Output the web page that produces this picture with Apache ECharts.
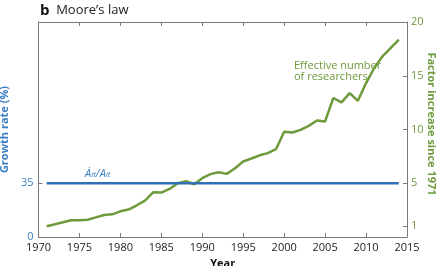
<!DOCTYPE html>
<html>
<head>
<meta charset="utf-8">
<script src="https://cdn.jsdelivr.net/npm/echarts@6/dist/echarts.min.js"></script>
<style>
  html, body { margin: 0; padding: 0; background: #fff; }
  #chart { width: 441px; height: 266px; }
</style>
</head>
<body>
<div id="chart"></div>
<script>
// effective number of researchers, factor increase since 1971
var years = [1971, 1972, 1973, 1974, 1975, 1976, 1977, 1978, 1979, 1980,
             1981, 1982, 1983, 1984, 1985, 1986, 1987, 1988, 1989, 1990,
             1991, 1992, 1993, 1994, 1995, 1996, 1997, 1998, 1999, 2000,
             2001, 2002, 2003, 2004, 2005, 2006, 2007, 2008, 2009, 2010,
             2011, 2012, 2013, 2014];
var researchers = [1.0, 1.18, 1.37, 1.55, 1.55, 1.61, 1.83, 2.05, 2.11, 2.39,
                   2.55, 2.95, 3.39, 4.16, 4.13, 4.47, 5.0, 5.19, 4.91, 5.47,
                   5.85, 6.03, 5.87, 6.4, 7.02, 7.3, 7.6, 7.8, 8.17, 9.79,
                   9.72, 9.97, 10.34, 10.84, 10.75, 12.93, 12.52, 13.39, 12.67, 14.32,
                   15.72, 16.8, 17.58, 18.36];
// growth rate (%)
var growthYears = [1971, 2014];
var growthRate = [35, 35];

var leftTicks = [0, 35];
var rightTicks = [1, 5, 10, 15, 20];

var blue = '#2f6fb3';
var blueText = '#3b7fc3';
var green = '#6e9a3c';
var axisGray = '#7a7a7a';
var font = 'Open Sans';

var chart = echarts.init(document.getElementById('chart'));

var greenData = years.map(function (y, i) { return [y, researchers[i]]; });
var blueData = growthYears.map(function (y, i) { return [y, growthRate[i]]; });

var option = {
    backgroundColor: '#fff',
    animation: false,
    textStyle: { fontFamily: font },
    grid: { left: 38.5, right: 34, top: 22, bottom: 29, containLabel: false, outerBoundsMode: 'none' },
    xAxis: [{
        type: 'value',
        min: 1970, max: 2015, interval: 5,
        name: 'Year',
        nameLocation: 'middle',
        nameGap: 16,
        nameTextStyle: { fontFamily: font, fontSize: 11, fontWeight: 'bold', color: '#111' },
        splitLine: { show: false },
        axisLine: { onZero: false, lineStyle: { color: axisGray, width: 1 } },
        axisTick: { inside: true, length: 4, lineStyle: { color: axisGray } },
        axisLabel: { fontFamily: font, fontSize: 11, color: '#222', margin: 5,
            formatter: function (v) { return String(v); } }
    }, {
        type: 'value',
        position: 'top',
        min: 1970, max: 2015, interval: 5,
        splitLine: { show: false },
        axisLine: { onZero: false, lineStyle: { color: axisGray, width: 1 } },
        axisTick: { inside: true, length: 4, lineStyle: { color: axisGray } },
        axisLabel: { show: false }
    }],
    yAxis: [{
        type: 'value',
        min: 0, max: 140,
        name: 'Growth rate (%)',
        nameLocation: 'middle',
        nameGap: 22,
        nameTextStyle: { fontFamily: font, fontSize: 11, fontWeight: 'bold', color: blueText },
        splitLine: { show: false },
        axisLine: { show: true, onZero: false, lineStyle: { color: axisGray, width: 1 } },
        axisTick: { show: true, inside: true, length: 4, customValues: leftTicks, lineStyle: { color: axisGray } },
        axisLabel: { fontFamily: font, fontSize: 11, color: blueText, margin: 5, customValues: leftTicks }
    }, {
        type: 'value',
        position: 'right',
        min: 0, max: 20,
        splitLine: { show: false },
        axisLine: { show: true, onZero: false, lineStyle: { color: axisGray, width: 1 } },
        axisTick: { show: true, inside: true, length: 4, customValues: rightTicks, lineStyle: { color: axisGray } },
        axisLabel: { fontFamily: font, fontSize: 11, color: green, margin: 4, customValues: rightTicks }
    }],
    graphic: [{
        type: 'text',
        left: 40, top: 3,
        style: {
            text: '{b|b}  {t|Moore\u2019s law}',
            rich: {
                b: { fontFamily: font, fontSize: 15, fontWeight: 'bold', fill: '#111' },
                t: { fontFamily: font, fontSize: 13, fill: '#222' }
            }
        }
    }, {
        // right axis title, reads top to bottom
        type: 'text',
        x: 431, y: 124,
        rotation: -Math.PI / 2,
        style: {
            text: 'Factor increase since 1971',
            fontFamily: font, fontSize: 11, fontWeight: 'bold', fill: green,
            align: 'center', verticalAlign: 'middle'
        }
    }, {
        type: 'text',
        left: 294, top: 60,
        style: {
            text: 'Effective number\nof researchers',
            fontFamily: font, fontSize: 11, lineHeight: 11, fill: green
        }
    }, {
        type: 'text',
        left: 85, top: 168,
        style: {
            text: '{a|\u0226}{s|it}{a|/A}{s|it}',
            rich: {
                a: { fontFamily: font, fontSize: 11, fontStyle: 'italic', fill: blueText, lineHeight: 14, verticalAlign: 'bottom' },
                s: { fontFamily: font, fontSize: 8, fontStyle: 'italic', fill: blueText, lineHeight: 11, verticalAlign: 'bottom' }
            }
        }
    }],
    series: [{
        type: 'line',
        xAxisIndex: 0, yAxisIndex: 1,
        data: greenData,
        symbol: 'none',
        lineStyle: { color: green, width: 2.5 },
        z: 2
    }, {
        type: 'line',
        xAxisIndex: 0, yAxisIndex: 0,
        data: blueData,
        symbol: 'none',
        lineStyle: { color: blue, width: 2.5 },
        z: 3
    }]
};

chart.setOption(option);
</script>
</body>
</html>
